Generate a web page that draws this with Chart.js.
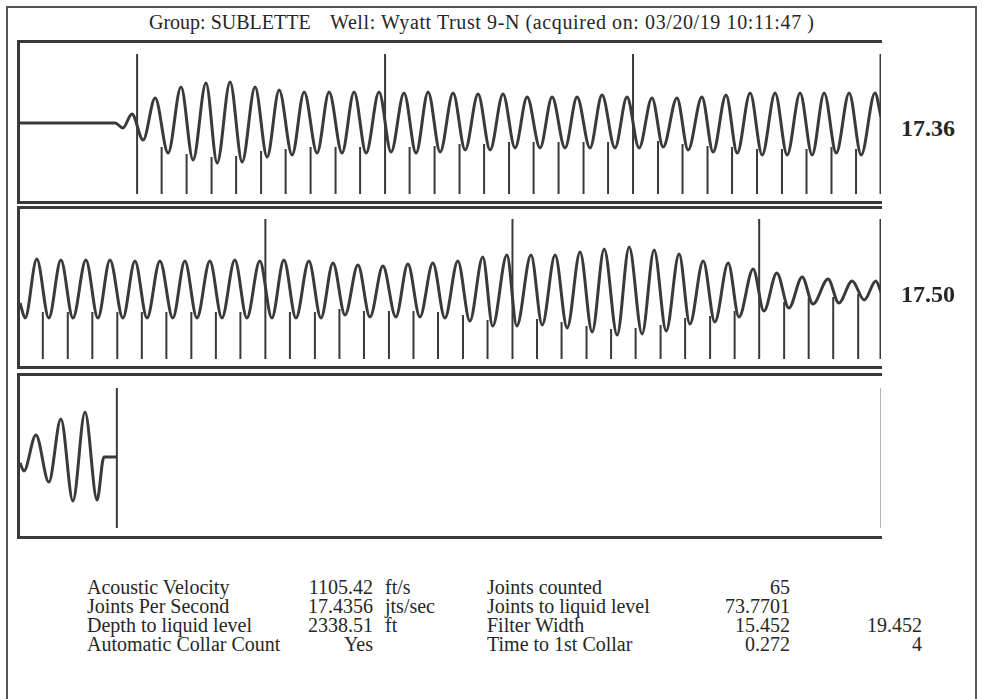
<!DOCTYPE html>
<html><head><meta charset="utf-8">
<script src="https://cdn.jsdelivr.net/npm/chart.js@4.4.1/dist/chart.umd.min.js"></script>
<style>
html,body{margin:0;padding:0;background:#fff;}
#page{position:relative;width:983px;height:699px;overflow:hidden;font-family:'Liberation Serif','Times New Roman',serif;color:#262626;}
#frame{position:absolute;left:6px;top:6px;width:971px;height:730px;border:2px solid #555;box-sizing:border-box;}
.title{position:absolute;top:12px;font-size:20px;line-height:20px;white-space:pre;}
.panel{position:absolute;left:17px;width:865px;border-top:3px solid #3a3a3a;border-bottom:3px solid #3a3a3a;border-left:3px solid #3a3a3a;box-sizing:border-box;}
canvas{position:absolute;}
.rate{position:absolute;left:901px;font-weight:bold;font-size:24px;line-height:24px;}
.cell{position:absolute;font-size:20px;line-height:20px;white-space:nowrap;}
</style></head>
<body><div id="page"><div id="frame"></div>
<div class="title" style="left:149px">Group: SUBLETTE</div>
<div class="title" style="left:330px;letter-spacing:0.6px">Well: Wyatt Trust 9-N (acquired on: 03/20/19 10:11:47 )</div>
</div>
<script>
// ---- data ----
// time in seconds, amplitude in trace units
const panelStarts = [0, 2, 4];
const panelRates = ['17.36', '17.50', ''];
const wave1 = [[0,0],[0.221,0],[0.239,-5],[0.260,9],[0.286,-17],[0.314,25],[0.344,-30],[0.374,36],[0.402,-37],[0.432,40],[0.458,-40],[0.488,41],[0.516,-39],[0.546,36],[0.574,-34],[0.602,33],[0.632,-32],[0.660,31],[0.690,-30],[0.718,31],[0.748,-30],[0.776,31],[0.804,-30],[0.834,31],[0.862,-29],[0.892,30],[0.920,-30],[0.948,31],[0.976,-29],[1.006,30],[1.034,-27],[1.064,29],[1.092,-27],[1.122,29],[1.150,-25],[1.178,26],[1.208,-25],[1.236,26],[1.266,-25],[1.294,26],[1.324,-25],[1.352,28],[1.382,-25],[1.410,26],[1.438,-25],[1.468,25],[1.494,-24],[1.526,25],[1.552,-27],[1.584,26],[1.610,-29],[1.640,28],[1.666,-30],[1.696,30],[1.724,-32],[1.754,30],[1.782,-32],[1.812,30],[1.840,-32],[1.868,30],[1.896,-30],[1.926,30],[1.954,-32],[1.986,30],[2.000,6]];
const wave2 = [[2.000,-15],[2.012,-30],[2.039,29],[2.067,-30],[2.095,28],[2.123,-30],[2.153,28],[2.181,-30],[2.209,28],[2.239,-30],[2.267,27],[2.295,-30],[2.325,27],[2.355,-30],[2.383,27],[2.411,-30],[2.441,27],[2.469,-30],[2.499,28],[2.527,-30],[2.557,27],[2.585,-30],[2.613,28],[2.641,-30],[2.671,27],[2.699,-30],[2.727,25],[2.755,-27],[2.785,23],[2.813,-29],[2.843,22],[2.873,-29],[2.901,24],[2.929,-29],[2.959,25],[2.987,-30],[3.017,27],[3.045,-33],[3.075,31],[3.098,-38],[3.131,33],[3.154,-38],[3.187,33],[3.213,-37],[3.243,33],[3.271,-40],[3.301,36],[3.329,-44],[3.357,39],[3.387,-47],[3.415,41],[3.445,-46],[3.473,38],[3.501,-43],[3.531,34],[3.556,-36],[3.587,27],[3.614,-34],[3.645,25],[3.670,-29],[3.703,19],[3.728,-23],[3.758,15],[3.786,-20],[3.817,11],[3.842,-16],[3.877,9],[3.902,-15],[3.933,7],[3.961,-12],[3.988,7],[4.000,-4]];
const wave3 = [[4.000,-6],[4.009,-14],[4.037,22],[4.067,-25],[4.095,38],[4.123,-44],[4.151,45],[4.179,-43],[4.195,0],[4.225,0]];
const collars1 = [0.272,0.329,0.387,0.445,0.502,0.560,0.617,0.675,0.733,0.790,0.848,0.905,0.963,1.021,1.078,1.136,1.193,1.251,1.309,1.366,1.424,1.482,1.539,1.597,1.654,1.712,1.770,1.827,1.885,1.942,2.000];
const collars2 = [2.053,2.111,2.168,2.226,2.283,2.340,2.398,2.455,2.512,2.570,2.627,2.685,2.742,2.799,2.857,2.914,2.971,3.029,3.086,3.144,3.201,3.258,3.316,3.373,3.430,3.488,3.545,3.603,3.660,3.717,3.775,3.832,3.889,3.947];
const markedCollarNumbers = [1, 11, 21, 31, 41, 51, 61];
const liquidLevelTime = [4.225];
const tableLabelsLeft = ['Acoustic Velocity', 'Joints Per Second', 'Depth to liquid level', 'Automatic Collar Count'];
const tableValuesLeft = ['1105.42', '17.4356', '2338.51', 'Yes'];
const tableUnitsLeft = ['ft/s', 'jts/sec', 'ft', ''];
const tableLabelsRight = ['Joints counted', 'Joints to liquid level', 'Filter Width', 'Time to 1st Collar'];
const tableValuesRight = ['65', '73.7701', '15.452', '0.272'];
const tableValuesExtra = ['', '', '19.452', '4'];

// ---- layout / style ----
const page = document.getElementById('page');
const panelTops = [40, 206, 373];
const panelHeights = [164, 163, 166];
const zeroPixel = [123, 288, 457];
const INK = '#3a3a3a';
const BOTTOM = -71, TALL = 69, OVERLAP = 6;

const waves = [wave1, wave2, wave3];
let collarNo = 0;
const collarSets = [collars1, collars2, []].map(list => list.map(t => ({t, n: ++collarNo})));

function troughNear(wave, t) {
  let m = 0;
  for (const [x, y] of wave) if (Math.abs(x - t) < 0.03 && y < m) m = y;
  return m;
}

for (let p = 0; p < 3; p++) {
  const box = document.createElement('div');
  box.className = 'panel';
  box.style.top = panelTops[p] + 'px';
  box.style.height = panelHeights[p] + 'px';
  page.appendChild(box);

  const cv = document.createElement('canvas');
  cv.width = 874; cv.height = 170;
  cv.style.left = '14px';
  cv.style.top = (zeroPixel[p] - 85) + 'px';
  page.appendChild(cv);

  const waveData = waves[p].map(([x, y]) => ({x, y}));
  const shortSeg = [], tallSeg = [];
  for (const c of collarSets[p]) {
    const tall = markedCollarNumbers.includes(c.n);
    const top = tall ? TALL : troughNear(waves[p], c.t) + OVERLAP;
    const seg = tall ? tallSeg : shortSeg;
    seg.push({x: c.t, y: BOTTOM}, {x: c.t, y: top}, {x: c.t, y: null});
  }
  if (p === 2) for (const t of liquidLevelTime) tallSeg.push({x: t, y: BOTTOM}, {x: t, y: TALL}, {x: t, y: null});
  const endT = panelStarts[p] + 2;
  const endSeg = [{x: endT, y: BOTTOM}, {x: endT, y: TALL}];

  new Chart(cv, {
    type: 'line',
    data: {datasets: [
      {data: endSeg, borderColor: p === 2 ? '#b5b5b5' : INK, borderWidth: p === 2 ? 2 : 3, pointRadius: 0, spanGaps: false},
      {data: shortSeg, borderColor: INK, borderWidth: 2, pointRadius: 0, spanGaps: false},
      {data: tallSeg, borderColor: INK, borderWidth: 2, pointRadius: 0, spanGaps: false},
      {data: waveData, borderColor: INK, borderWidth: 3, pointRadius: 0, cubicInterpolationMode: 'monotone'}
    ]},
    options: {
      responsive: false, animation: false, devicePixelRatio: 1,
      layout: {padding: {left: 6, right: 7, top: 5, bottom: 5}},
      plugins: {legend: {display: false}, tooltip: {enabled: false}, title: {display: false}},
      scales: {
        x: {type: 'linear', display: false, min: panelStarts[p], max: panelStarts[p] + 2},
        y: {display: false, min: -80, max: 80}
      }
    }
  });

  if (panelRates[p]) {
    const r = document.createElement('div');
    r.className = 'rate';
    r.textContent = panelRates[p];
    r.style.top = (p === 0 ? 116 : 282) + 'px';
    page.appendChild(r);
  }
}

// table
const rowCenters = [587, 606, 625, 644];
function cell(text, top, left, right) {
  const d = document.createElement('div');
  d.className = 'cell';
  d.textContent = text;
  d.style.top = top + 'px';
  if (left !== null) d.style.left = left + 'px';
  else { d.style.right = (983 - right) + 'px'; }
  page.appendChild(d);
}
for (let i = 0; i < 4; i++) {
  const y = rowCenters[i] - 10;
  cell(tableLabelsLeft[i], y, 87, null);
  cell(tableValuesLeft[i], y, null, 373);
  cell(tableUnitsLeft[i], y, 385, null);
  cell(tableLabelsRight[i], y, 487, null);
  cell(tableValuesRight[i], y, null, 790);
  cell(tableValuesExtra[i], y, null, 922);
}
</script></body></html>
